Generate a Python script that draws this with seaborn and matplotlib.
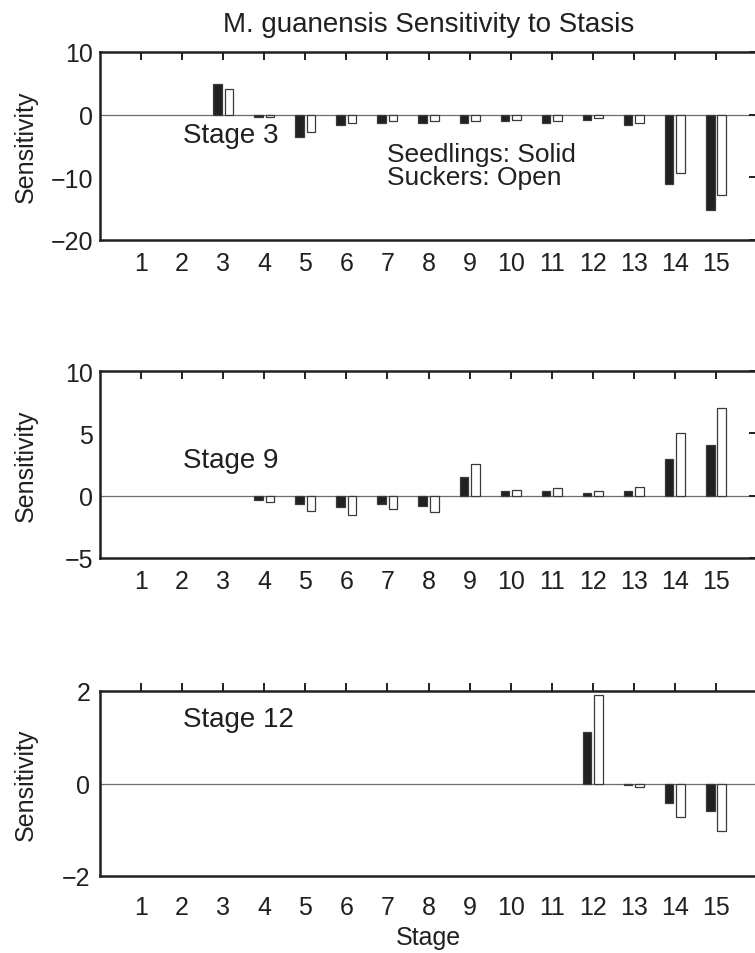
import pandas as pd
import numpy as np
import seaborn as sns
import matplotlib.pyplot as plt

# stages 1..15 on the x axis
stages = list(range(1, 16))

# sensitivity of each stage-class to stasis of stage 3, 9 and 12 (0 = no bar)
seedlings_s3 = [0, 0, 4.9, -0.37, -3.5, -1.6, -1.3, -1.3, -1.3, -1.07, -1.3, -0.85, -1.6, -11.1, -15.2]
suckers_s3 = [0, 0, 4.16, -0.3, -2.8, -1.3, -1.0, -1.0, -1.0, -0.8, -1.0, -0.6, -1.3, -9.3, -12.8]

seedlings_s9 = [0, 0, 0, -0.32, -0.68, -0.92, -0.68, -0.81, 1.46, 0.35, 0.35, 0.22, 0.35, 2.97, 4.08]
suckers_s9 = [0, 0, 0, -0.54, -1.19, -1.54, -1.05, -1.3, 2.57, 0.46, 0.6, 0.35, 0.7, 5.05, 7.03]

seedlings_s12 = [0, 0, 0, 0, 0, 0, 0, 0, 0, 0, 0, 1.12, -0.03, -0.43, -0.59]
suckers_s12 = [0, 0, 0, 0, 0, 0, 0, 0, 0, 0, 0, 1.91, -0.065, -0.72, -1.03]

panel_labels = ["Stage 3", "Stage 9", "Stage 12"]
y_limits = [(-20, 10), (-5, 10), (-2, 2)]
y_ticks = [[-20, -10, 0, 10], [-5, 0, 5, 10], [-2, 0, 2]]
label_y = [-3.2, 2.9, 1.4]

sns.set_style("white")
plt.rcParams['font.family'] = ['Liberation Sans', 'DejaVu Sans']
plt.rcParams['axes.unicode_minus'] = True

fig = plt.figure(figsize=(7.55, 9.54), dpi=100)

W, H = 755, 954
# axes boxes in pixels: (top, bottom); right spine sits just off the canvas
boxes = [(53, 241), (372, 559), (692, 877)]
left_px, right_px = 100, 757

series = [(seedlings_s3, suckers_s3), (seedlings_s9, suckers_s9), (seedlings_s12, suckers_s12)]
pal = {"Seedlings": "#231f20", "Suckers": "white"}
ink = "#231f20"

for i, ((seed, suck), (top, bot)) in enumerate(zip(series, boxes)):
    ax = fig.add_axes([left_px / W, 1 - bot / H, (right_px - left_px) / W, (bot - top) / H])
    df = pd.DataFrame({
        "stage": stages * 2,
        "value": seed + suck,
        "type": ["Seedlings"] * len(stages) + ["Suckers"] * len(stages),
    })
    df = df[df["value"] != 0]
    ax.axhline(0, color="#6d6d6d", lw=0.9, zorder=0)
    sns.barplot(data=df, x="stage", y="value", hue="type", hue_order=["Seedlings", "Suckers"],
                native_scale=True, width=0.56, gap=0.25, palette=pal, edgecolor="#3a3a3a",
                linewidth=0.9, errorbar=None, legend=False, ax=ax)
    ax.set_xlim(0, 16)
    ax.set_ylim(*y_limits[i])
    ax.set_xticks(stages)
    ax.set_xticklabels([str(s) for s in stages])
    ax.set_yticks(y_ticks[i])
    # bottom panel has its ticks pointing out, the others in
    if i < 2:
        ax.tick_params(axis="both", direction="in", length=6, width=1.4, color=ink,
                       labelsize=18, top=True, right=True, labelcolor=ink)
        ax.tick_params(axis="x", pad=8)
        ax.tick_params(axis="y", pad=5)
    else:
        ax.tick_params(axis="both", direction="out", length=6, width=1.4, color=ink,
                       labelsize=18, top=True, right=True, labelcolor=ink)
        ax.tick_params(axis="x", pad=8)
        ax.tick_params(axis="y", pad=1)
    for sp in ax.spines.values():
        sp.set_linewidth(1.8)
        sp.set_color(ink)
    ax.set_ylabel("Sensitivity", fontsize=18, color=ink)
    ax.yaxis.set_label_coords(-0.095, 0.5)
    ax.set_xlabel("")
    ax.text(2.03, label_y[i], panel_labels[i], fontsize=20, color=ink, va="center", ha="left")
    if i == 0:
        ax.set_title("M. guanensis Sensitivity to Stasis", fontsize=20, color=ink, pad=15)
        ax.text(7.0, -6.25, "Seedlings: Solid", fontsize=19, color=ink, va="center", ha="left")
        ax.text(7.0, -10.0, "Suckers: Open", fontsize=19, color=ink, va="center", ha="left")
    if i == 2:
        ax.set_xlabel("Stage", fontsize=18, color=ink, labelpad=4)

fig.savefig("out.png", dpi=100)
